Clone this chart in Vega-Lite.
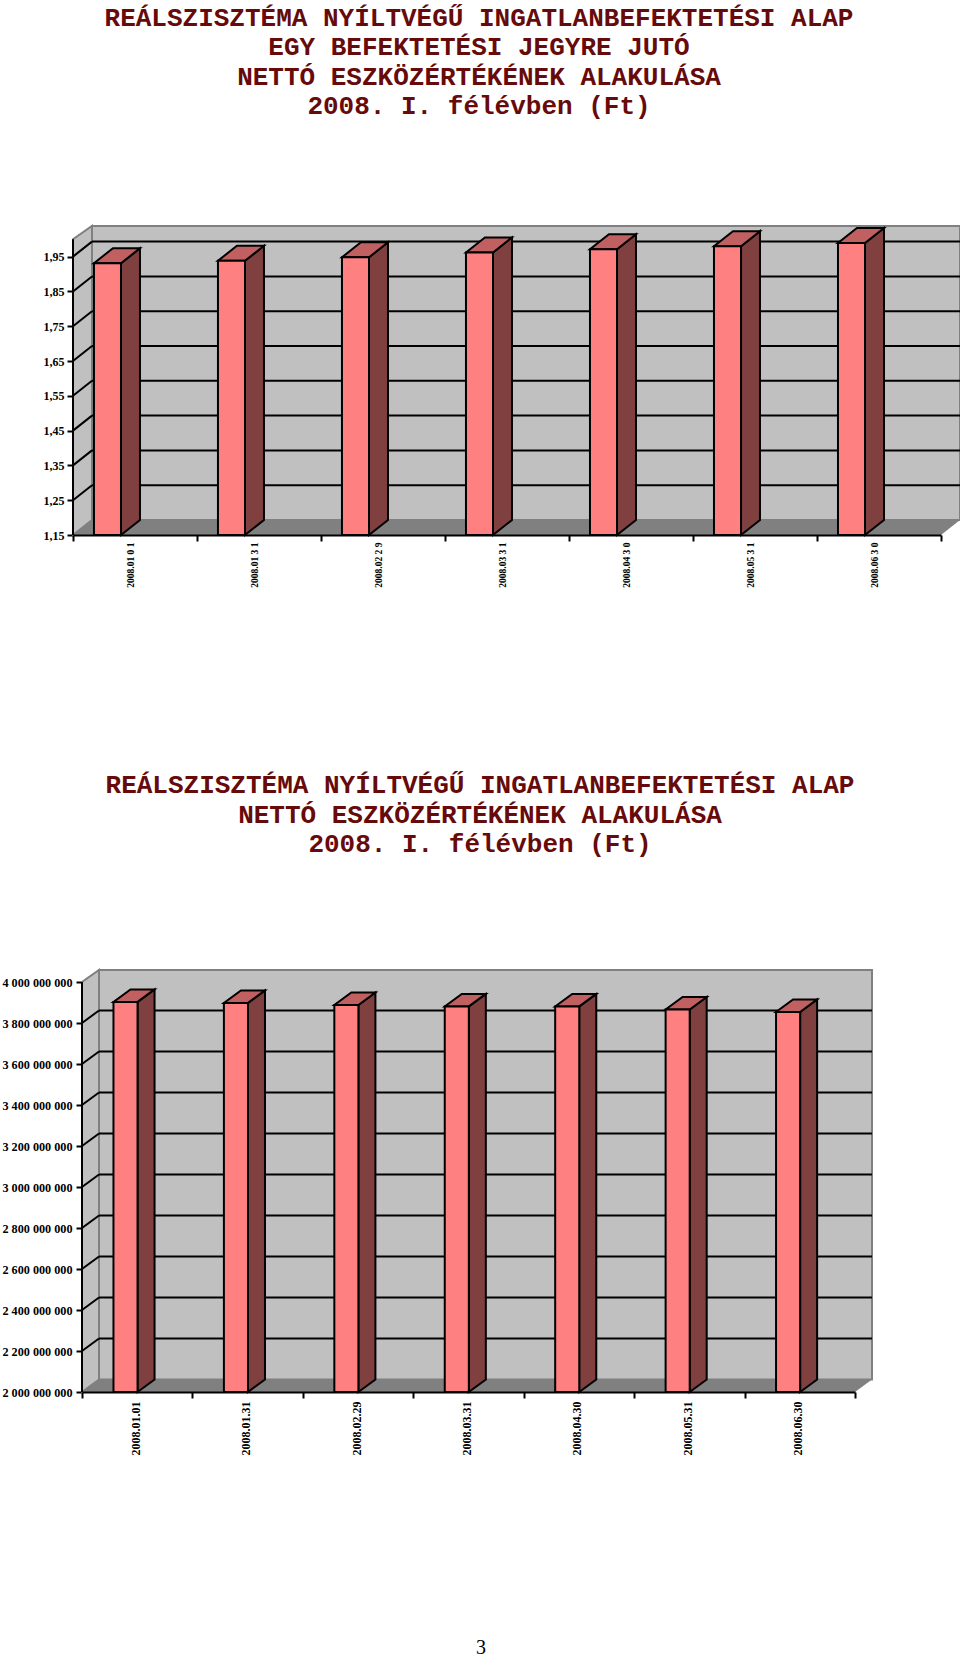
{
"$schema":"https://vega.github.io/schema/vega-lite/v6.json",
"padding":{"left":1,"top":4,"right":0,"bottom":0},
"background":"white",
"config":{"view":{"stroke":null}},
"bounds":"flush",
"spacing":246,
"datasets":{
"nav":[{"date":"2008.01 0 1","value":1.931},{"date":"2008.01 3 1","value":1.938},{"date":"2008.02 2 9","value":1.948},{"date":"2008.03 3 1","value":1.962},{"date":"2008.04 3 0","value":1.971},{"date":"2008.05 3 1","value":1.980},{"date":"2008.06 3 0","value":1.989}],
"navTicks":[{"tick":1.25},{"tick":1.35},{"tick":1.45},{"tick":1.55},{"tick":1.65},{"tick":1.75},{"tick":1.85},{"tick":1.95}],
"assets":[{"date":"2008.01.01","value":3903000000},{"date":"2008.01.31","value":3898000000},{"date":"2008.02.29","value":3888000000},{"date":"2008.03.31","value":3881000000},{"date":"2008.04.30","value":3881000000},{"date":"2008.05.31","value":3866000000},{"date":"2008.06.30","value":3854000000}],
"assetTicks":[{"tick":2200000000},{"tick":2400000000},{"tick":2600000000},{"tick":2800000000},{"tick":3000000000},{"tick":3200000000},{"tick":3400000000},{"tick":3600000000},{"tick":3800000000}]
},
"vconcat":[
{"width":887,"height":309,
"title":{"text":["REÁLSZISZTÉMA NYÍLTVÉGŰ INGATLANBEFEKTETÉSI ALAP","EGY BEFEKTETÉSI JEGYRE JUTÓ","NETTÓ ESZKÖZÉRTÉKÉNEK ALAKULÁSA","2008. I. félévben (Ft)"],"font":"Liberation Mono","fontSize":26,"fontWeight":"bold","color":"#660a0a","lineHeight":29.5,"anchor":"middle","frame":"group","dx":-37.5,"offset":103},
"resolve":{"scale":{"x":"independent"}},
"layer":[
{"layer":[
{"data":{"values":[{"part":"back wall"}]},"mark":{"type":"rect","fill":"#c0c0c0","stroke":"#808080","strokeWidth":2},
"encoding":{"x":{"datum":0.153,"type":"quantitative","scale":{"domain":[0,7.153],"nice":false,"zero":false},"axis":null},"x2":{"datum":7.153},
"y":{"datum":1.193,"type":"quantitative","scale":{"domain":[1.15,2.038],"nice":false,"zero":false},"axis":{"values":[1.15,1.25,1.35,1.45,1.55,1.65,1.75,1.85,1.95],"tickCount":20,"labelExpr":"replace(format(datum.value,'.2f'),'.',',')","title":null,"grid":false,"domain":false,"tickSize":6,"tickWidth":2,"tickColor":"black","labelColor":"black","labelFont":"Liberation Serif","labelFontWeight":"bold","labelFontSize":12,"labelPadding":3,"labelOverlap":false,"labelFlush":false}},"y2":{"datum":2.038}}},
{"data":{"values":[{"part":"side wall"}]},"transform":[{"calculate":"[0,1]","as":"k"},{"flatten":["k"]},{"calculate":"datum.k*0.153","as":"px"},{"calculate":"1.15+datum.k*0.0431","as":"lo"},{"calculate":"2.0+datum.k*0.038","as":"hi"}],
"mark":{"type":"area","fill":"#c0c0c0","stroke":"#808080","strokeWidth":2},
"encoding":{"x":{"field":"px","type":"quantitative","axis":null},"y":{"field":"lo","type":"quantitative"},"y2":{"field":"hi"}}},
{"data":{"values":[{"part":"floor"}]},"transform":[{"calculate":"[0,1,2,3]","as":"k"},{"flatten":["k"]},{"calculate":"[0,0.153,7,7.153][datum.k]","as":"px"},{"calculate":"[1.15,1.15,1.15,1.1931][datum.k]","as":"lo"},{"calculate":"[1.15,1.1931,1.1931,1.1931][datum.k]","as":"hi"}],
"mark":{"type":"area","fill":"#808080"},
"encoding":{"x":{"field":"px","type":"quantitative","axis":null},"y":{"field":"lo","type":"quantitative"},"y2":{"field":"hi"}}},
{"data":{"name":"navTicks"},"transform":[{"calculate":"datum.tick+0.0431","as":"back"}],"mark":{"type":"rule","color":"black","strokeWidth":2},
"encoding":{"x":{"datum":0.153,"type":"quantitative","axis":null},"x2":{"datum":7.153},"y":{"field":"back","type":"quantitative"}}},
{"data":{"name":"navTicks"},"transform":[{"calculate":"datum.tick+0.0431","as":"back"}],"mark":{"type":"rule","color":"black","strokeWidth":2},
"encoding":{"x":{"datum":0,"type":"quantitative","axis":null},"x2":{"datum":0.153},"y":{"field":"tick","type":"quantitative"},"y2":{"field":"back"}}},
{"data":{"values":[{"part":"value axis line"}]},"mark":{"type":"rule","color":"black","strokeWidth":2},
"encoding":{"x":{"datum":0,"type":"quantitative","axis":null},"y":{"datum":1.15,"type":"quantitative"},"y2":{"datum":2.0}}},
{"data":{"name":"nav"},"transform":[{"window":[{"op":"row_number","as":"n"}]},{"calculate":"datum.n-1+0.387","as":"right"},{"calculate":"[0,1]","as":"k"},{"flatten":["k"]},{"calculate":"datum.right+datum.k*0.153","as":"px"},{"calculate":"datum.value+datum.k*0.0431","as":"hi"},{"calculate":"1.15+datum.k*0.0431","as":"lo"}],
"mark":{"type":"area","fill":"#804040","stroke":"black","strokeWidth":2},
"encoding":{"x":{"field":"px","type":"quantitative","axis":null},"y":{"field":"lo","type":"quantitative"},"y2":{"field":"hi"},"detail":{"field":"date"}}},
{"data":{"name":"nav"},"transform":[{"window":[{"op":"row_number","as":"n"}]},{"calculate":"[0,1,2,3]","as":"k"},{"flatten":["k"]},{"calculate":"datum.n-1+[0.169,0.322,0.387,0.54][datum.k]","as":"px"},{"calculate":"datum.value+[0,0,0,0.0431][datum.k]","as":"lo"},{"calculate":"datum.value+[0,0.0431,0.0431,0.0431][datum.k]","as":"hi"}],
"mark":{"type":"area","fill":"#c06060","stroke":"black","strokeWidth":2},
"encoding":{"x":{"field":"px","type":"quantitative","axis":null},"y":{"field":"lo","type":"quantitative"},"y2":{"field":"hi"},"detail":{"field":"date"}}},
{"data":{"name":"nav"},"transform":[{"window":[{"op":"row_number","as":"n"}]},{"calculate":"datum.n-1+0.169","as":"left"},{"calculate":"datum.n-1+0.387","as":"right"}],
"mark":{"type":"rect","fill":"#ff8080","stroke":"black","strokeWidth":2},
"encoding":{"x":{"field":"left","type":"quantitative","axis":null},"x2":{"field":"right"},"y":{"field":"value","type":"quantitative"},"y2":{"datum":1.15}}}
]},
{"data":{"name":"nav"},"mark":{"type":"point","opacity":0},
"encoding":{"x":{"field":"date","type":"nominal","sort":null,"scale":{"type":"band","paddingInner":0,"paddingOuter":0,"range":[0,868]},
"axis":{"title":null,"zindex":1,"tickBand":"extent","domainColor":"black","domainWidth":2,"tickColor":"black","tickWidth":2,"tickSize":6,"labelAngle":270,"labelAlign":"right","labelBaseline":"middle","labelPadding":1,"labelOffset":-5,"labelColor":"black","labelFont":"Liberation Serif","labelFontWeight":"bold","labelFontSize":9.5,"labelOverlap":false,"labelFlush":false}}}}
]},
{"width":800,"height":611,
"title":{"text":["REÁLSZISZTÉMA NYÍLTVÉGŰ INGATLANBEFEKTETÉSI ALAP","NETTÓ ESZKÖZÉRTÉKÉNEK ALAKULÁSA","2008. I. félévben (Ft)"],"font":"Liberation Mono","fontSize":26,"fontWeight":"bold","color":"#660a0a","lineHeight":29.5,"anchor":"middle","frame":"group","dx":7,"offset":-76},
"resolve":{"scale":{"x":"independent"}},
"layer":[
{"layer":[
{"data":{"values":[{"part":"back wall"}]},"mark":{"type":"rect","fill":"#c0c0c0","stroke":"#808080","strokeWidth":2},
"encoding":{"x":{"datum":0.154,"type":"quantitative","scale":{"domain":[0,7.163],"range":[9,800],"nice":false,"zero":false},"axis":null},"x2":{"datum":7.154},
"y":{"datum":2061000000,"type":"quantitative","scale":{"domain":[2000000000,4980500000],"nice":false,"zero":false},"axis":{"offset":-9,"values":[2000000000,2200000000,2400000000,2600000000,2800000000,3000000000,3200000000,3400000000,3600000000,3800000000,4000000000],"tickCount":20,"labelExpr":"replace(format(datum.value,',d'),regexp(',','g'),' ')","title":null,"grid":false,"domain":false,"tickSize":6,"tickWidth":2,"tickColor":"black","labelColor":"black","labelFont":"Liberation Serif","labelFontWeight":"bold","labelFontSize":12.2,"labelPadding":4,"labelOverlap":false,"labelFlush":false}},"y2":{"datum":4058500000}}},
{"data":{"values":[{"part":"side wall"}]},"transform":[{"calculate":"[0,1]","as":"k"},{"flatten":["k"]},{"calculate":"datum.k*0.154","as":"px"},{"calculate":"2000000000+datum.k*61000000","as":"lo"},{"calculate":"4000000000+datum.k*58500000","as":"hi"}],
"mark":{"type":"area","fill":"#c0c0c0","stroke":"#808080","strokeWidth":2},
"encoding":{"x":{"field":"px","type":"quantitative","axis":null},"y":{"field":"lo","type":"quantitative"},"y2":{"field":"hi"}}},
{"data":{"values":[{"part":"floor"}]},"transform":[{"calculate":"[0,1,2,3]","as":"k"},{"flatten":["k"]},{"calculate":"[0,0.154,7,7.154][datum.k]","as":"px"},{"calculate":"[2000000000,2000000000,2000000000,2061000000][datum.k]","as":"lo"},{"calculate":"[2000000000,2061000000,2061000000,2061000000][datum.k]","as":"hi"}],
"mark":{"type":"area","fill":"#808080"},
"encoding":{"x":{"field":"px","type":"quantitative","axis":null},"y":{"field":"lo","type":"quantitative"},"y2":{"field":"hi"}}},
{"data":{"name":"assetTicks"},"transform":[{"calculate":"datum.tick+61000000","as":"back"}],"mark":{"type":"rule","color":"black","strokeWidth":2},
"encoding":{"x":{"datum":0.154,"type":"quantitative","axis":null},"x2":{"datum":7.154},"y":{"field":"back","type":"quantitative"}}},
{"data":{"name":"assetTicks"},"transform":[{"calculate":"datum.tick+61000000","as":"back"}],"mark":{"type":"rule","color":"black","strokeWidth":2},
"encoding":{"x":{"datum":0,"type":"quantitative","axis":null},"x2":{"datum":0.154},"y":{"field":"tick","type":"quantitative"},"y2":{"field":"back"}}},
{"data":{"values":[{"part":"value axis line"}]},"mark":{"type":"rule","color":"black","strokeWidth":2},
"encoding":{"x":{"datum":0,"type":"quantitative","axis":null},"y":{"datum":2000000000,"type":"quantitative"},"y2":{"datum":4000000000}}},
{"data":{"name":"assets"},"transform":[{"window":[{"op":"row_number","as":"n"}]},{"calculate":"datum.n-1+0.503","as":"right"},{"calculate":"[0,1]","as":"k"},{"flatten":["k"]},{"calculate":"datum.right+datum.k*0.154","as":"px"},{"calculate":"datum.value+datum.k*61000000","as":"hi"},{"calculate":"2000000000+datum.k*61000000","as":"lo"}],
"mark":{"type":"area","fill":"#804040","stroke":"black","strokeWidth":2},
"encoding":{"x":{"field":"px","type":"quantitative","axis":null},"y":{"field":"lo","type":"quantitative"},"y2":{"field":"hi"},"detail":{"field":"date"}}},
{"data":{"name":"assets"},"transform":[{"window":[{"op":"row_number","as":"n"}]},{"calculate":"[0,1,2,3]","as":"k"},{"flatten":["k"]},{"calculate":"datum.n-1+[0.285,0.439,0.503,0.657][datum.k]","as":"px"},{"calculate":"datum.value+[0,0,0,61000000][datum.k]","as":"lo"},{"calculate":"datum.value+[0,61000000,61000000,61000000][datum.k]","as":"hi"}],
"mark":{"type":"area","fill":"#c06060","stroke":"black","strokeWidth":2},
"encoding":{"x":{"field":"px","type":"quantitative","axis":null},"y":{"field":"lo","type":"quantitative"},"y2":{"field":"hi"},"detail":{"field":"date"}}},
{"data":{"name":"assets"},"transform":[{"window":[{"op":"row_number","as":"n"}]},{"calculate":"datum.n-1+0.285","as":"left"},{"calculate":"datum.n-1+0.503","as":"right"}],
"mark":{"type":"rect","fill":"#ff8080","stroke":"black","strokeWidth":2},
"encoding":{"x":{"field":"left","type":"quantitative","axis":null},"x2":{"field":"right"},"y":{"field":"value","type":"quantitative"},"y2":{"datum":2000000000}}}
]},
{"data":{"name":"assets"},"mark":{"type":"point","opacity":0},
"encoding":{"x":{"field":"date","type":"nominal","sort":null,"scale":{"type":"band","paddingInner":0,"paddingOuter":0,"range":[9,782]},
"axis":{"title":null,"zindex":1,"tickBand":"extent","domainColor":"black","domainWidth":2,"tickColor":"black","tickWidth":2,"tickSize":6,"labelAngle":270,"labelAlign":"right","labelBaseline":"middle","labelPadding":3,"labelOffset":-2,"labelColor":"black","labelFont":"Liberation Serif","labelFontWeight":"bold","labelFontSize":12,"labelOverlap":false,"labelFlush":false}}}}
]},
{"width":816,"height":20,"data":{"values":[{"page":"3"}]},"mark":{"type":"text","font":"Liberation Serif","fontSize":20,"color":"black"},"encoding":{"text":{"field":"page","type":"nominal"}}}
]
}
